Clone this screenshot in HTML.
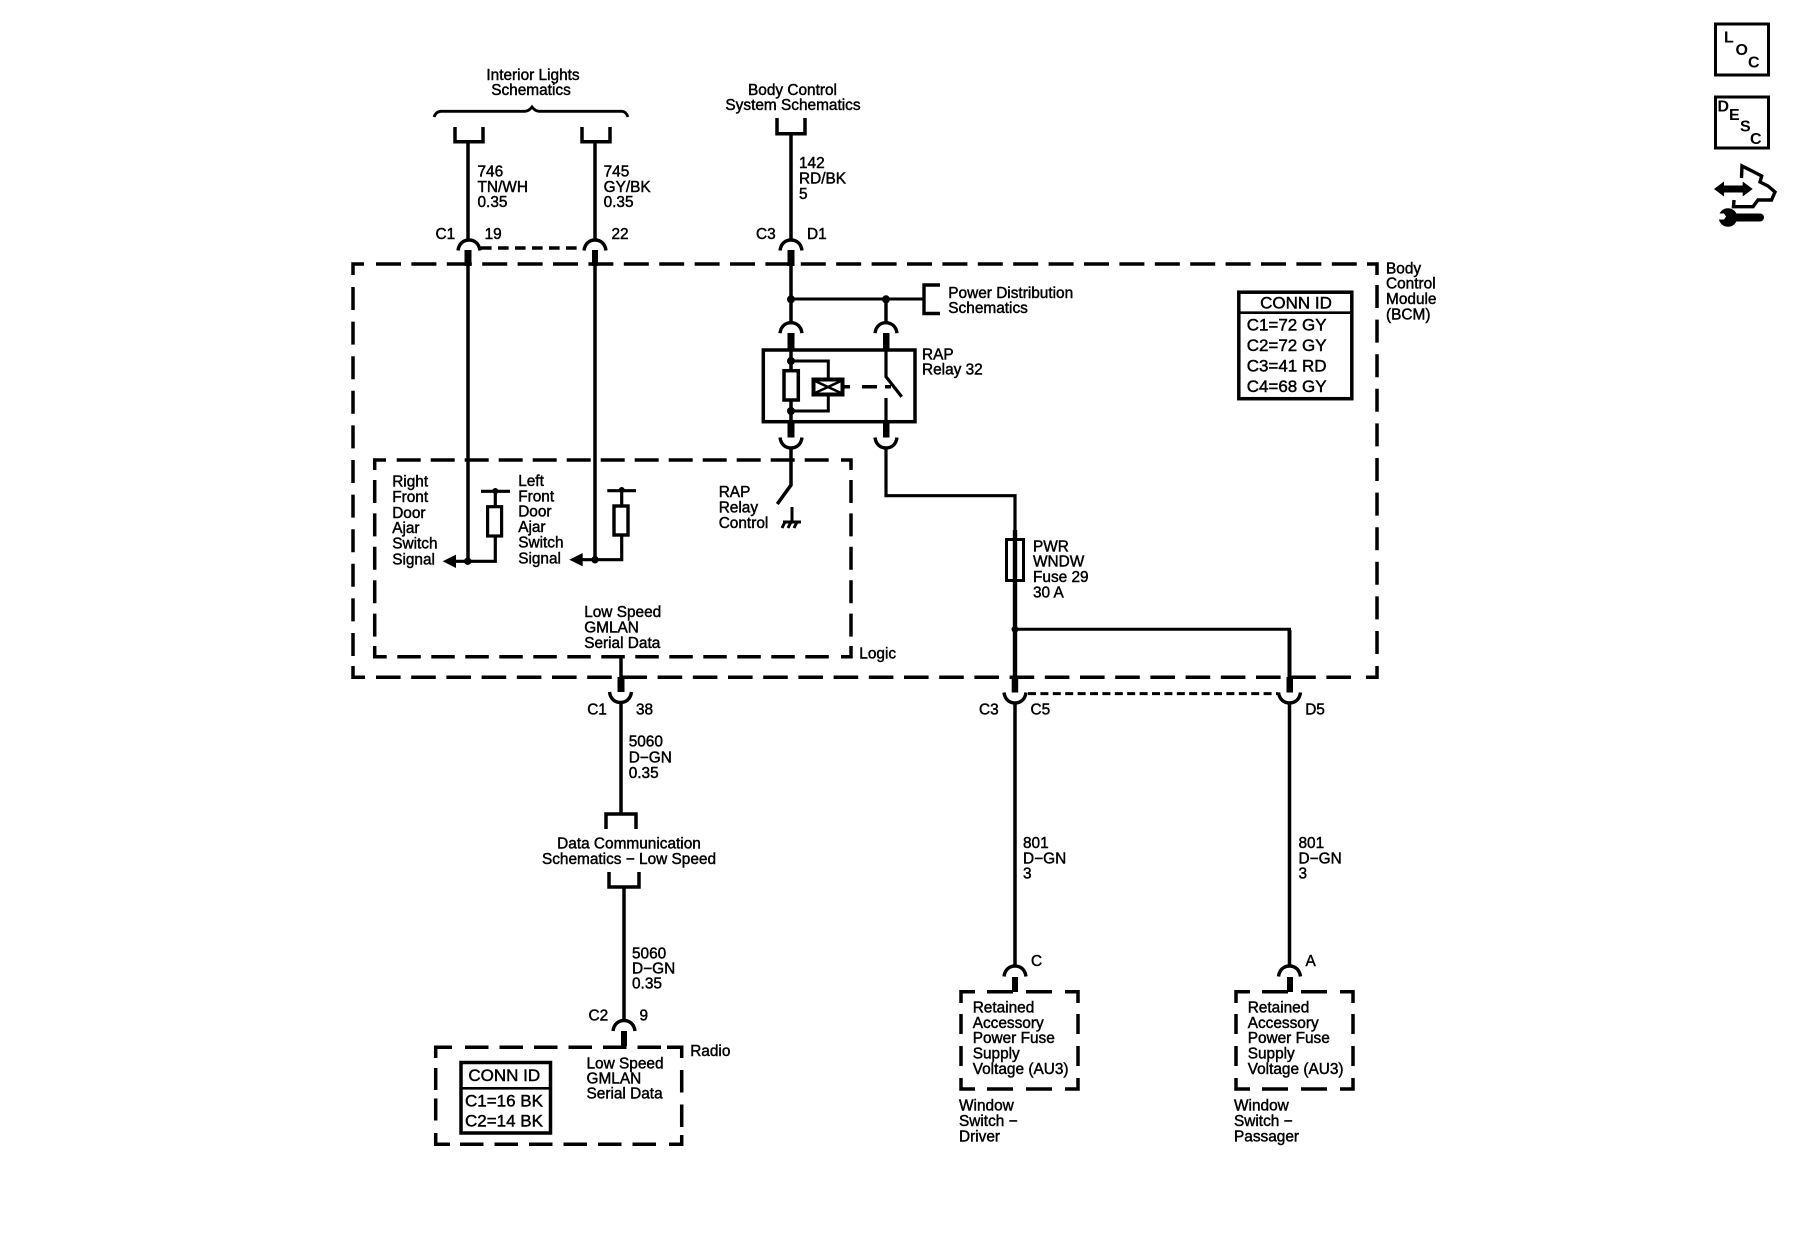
<!DOCTYPE html>
<html><head><meta charset="utf-8"><style>
html,body{margin:0;padding:0;background:#fff}
svg{display:block}
text{font-family:"Liberation Sans",sans-serif;font-size:15.4px;fill:#000;stroke:#000;stroke-width:.45}
.b{font-size:17px}
.l{font-size:16px;font-weight:bold;stroke:none}
.m{text-anchor:middle}
</style></head><body>
<svg width="1800" height="1248" viewBox="0 0 1800 1248" xmlns="http://www.w3.org/2000/svg">
<defs>
<path id="n" d="M-11 10.5C-10 3-5 0 0 0S10 3 11 10.5" fill="none" stroke="#000" stroke-width="3.4"/>
<path id="u" d="M-11 0C-10 7.5-5 10.5 0 10.5S10 7.5 11 0" fill="none" stroke="#000" stroke-width="3.4"/>
</defs>
<rect width="1800" height="1248" fill="#fff"/>
<g fill="none" stroke="#000" stroke-width="3.5">
<!-- brace -->
<path d="M434 117Q436 111.5 441 111.3H525Q529 111 532 107Q535 111 539 111.3H622Q626 111.5 628 117" stroke-width="2.8"/>
<!-- top connectors -->
<path d="M455 127V141.7H483V127M582 127V141.7H610V127M777 118V133.7H805V118" stroke-width="3.5"/>
<!-- main wires -->
<path d="M468 141V241M468 264V561M595 141V241M595 264V560M791 133V241M791 264V323"/>
<path d="M791 299H924" stroke-width="3"/>
<path d="M886 299V323" stroke-width="3.4"/>
<path d="M940 285H924V313.5H940" stroke-width="3.4"/>
<!-- BCM dashed -->
<path d="M353 275V264H364M1367 264H1377V275M353 666V677.3H365M1366 677.3H1377V666"/>
<path d="M376 264H1358" stroke-dasharray="25 10.4"/>
<path d="M376 677.3H1358" stroke-dasharray="24.6 10.6"/>
<path d="M353 287V656" stroke-dasharray="23 11.6"/>
<path d="M1377 285V656" stroke-dasharray="23 11.6"/>
<!-- logic dashed -->
<path d="M374.7 470V460H386M841 460H851V470M374.7 646V656.7H386.7M841 656.7H851V646"/>
<path d="M396.7 460H835" stroke-dasharray="24 10"/>
<path d="M397.3 656.7H835" stroke-dasharray="23.5 10.5"/>
<path d="M374.7 480V640" stroke-dasharray="23 10.4"/>
<path d="M851 480V640" stroke-dasharray="23 10.4"/>
<!-- connector dashed links -->
<path d="M481 248H580" stroke-dasharray="10.6 6.4" stroke-width="3.6"/>
<path d="M1028 693.6H1278" stroke-dasharray="8 4.4" stroke-width="3"/>
<!-- relay -->
<rect x="763.3" y="350" width="151.7" height="71.7"/>
<rect x="784" y="370.7" width="14.3" height="29.3"/>
<path d="M791 345V370.7M791 400V428M791 447V485L777.3 504"/>
<path d="M791 361H828.3V379M791 411H828.3V395" stroke-width="3"/>
<rect x="813.5" y="379.5" width="29" height="15" fill="#fff" stroke-width="4"/>
<path d="M815 381L841 393M815 393L841 381" stroke-width="2.6"/>
<path d="M843 386.7H850M862 386.7H877M885 386.7H891"/>
<path d="M886 345V376.7L901.7 396.7" stroke-width="3.2"/>
<path d="M886 398V430" stroke-width="3.2"/>
<path d="M792 507V522M783 522H801M785 522L782 528M791 522L788 528M797 522L794 528" stroke-width="3"/>
<path d="M886 447V495.7H1015V540" stroke-width="3.2"/>
<!-- fuse -->
<rect x="1006.5" y="539.5" width="17" height="41" stroke-width="3"/>
<path d="M1015 530V692" stroke-width="4.4"/>
<path d="M1015 629.3H1289.5V680" stroke-width="3"/>
<path d="M1289.5 630V692" stroke-width="4"/>
<!-- door ajar switches -->
<path d="M481 491.3H510M495.3 491V506.7M495.3 536V561.3H452" stroke-width="3.2"/>
<rect x="487.6" y="506.7" width="14" height="29.3" stroke-width="3.2"/>
<path d="M607.3 490.7H636M621.7 490V506M621.7 535V559.7H578" stroke-width="3.2"/>
<rect x="614" y="506" width="14" height="29" stroke-width="3.4"/>
<!-- bottom wires -->
<path d="M621 656V692M621 702V814M606 829V814H636V829"/>
<path d="M609 872V887H639V872M624 887V1021"/>
<path d="M1015 703V966M1289.5 703V966"/>
<!-- radio dashed -->
<path d="M435.7 1058V1047.3H452M667 1047.3H681.7V1058M435.7 1133V1144.3H450M669 1144.3H681.7V1135"/>
<path d="M465 1047.3H665" stroke-dasharray="23.5 11"/>
<path d="M460 1144.3H665" stroke-dasharray="23.5 11"/>
<path d="M435.7 1068V1124" stroke-dasharray="22 8.5"/>
<path d="M681.7 1070V1127" stroke-dasharray="22.5 12"/>
<!-- switch boxes -->
<path d="M961 1003V991.8H975M1065 991.8H1078V1003M961 1078V1089H975M1065 1089H1078V1078"/>
<path d="M987 991.8H1054M987 1089H1054" stroke-dasharray="26 13"/>
<path d="M961 1014V1068M1078 1014V1068" stroke-dasharray="20 12"/>
<path d="M1236 1003V991.8H1250M1340 991.8H1353V1003M1236 1078V1089H1250M1340 1089H1353V1078"/>
<path d="M1262 991.8H1329M1262 1089H1329" stroke-dasharray="26 13"/>
<path d="M1236 1014V1068M1353 1014V1068" stroke-dasharray="20 12"/>
<!-- conn boxes -->
<rect x="1238.8" y="292.2" width="113" height="106.5" fill="#fff"/>
<path d="M1238 312.7H1353" stroke-width="2.6"/>
<rect x="461" y="1062.5" width="89.5" height="70.5" fill="#fff"/>
<path d="M460 1088.3H551" stroke-width="2.6"/>
<!-- LOC/DESC -->
<rect x="1715.5" y="24" width="53" height="51" stroke-width="3"/>
<rect x="1715.5" y="97" width="53" height="51" stroke-width="3"/>
<!-- icon -->
<path d="M1741.5 178L1742 166L1754 172L1761.7 176L1760 182L1768 186L1775 192L1771.5 200L1758 200L1753 206.7L1733.5 206.7L1734 200" stroke-width="3.4"/>
<path d="M1722 189H1745" stroke-width="7"/>
<path d="M1727 217.5H1760" stroke-width="8" stroke-linecap="round"/>
</g>
<g fill="#000" stroke="none">
<!-- stubs -->
<rect x="464.5" y="250" width="7" height="16"/>
<rect x="592" y="250" width="6" height="16"/>
<rect x="787.5" y="250" width="7" height="16"/>
<rect x="787.5" y="333" width="7" height="18"/>
<rect x="883" y="333" width="6.5" height="18"/>
<rect x="787.5" y="421" width="7" height="16.5"/>
<rect x="883" y="421" width="6.5" height="16.5"/>
<rect x="617.5" y="677" width="7" height="15"/>
<rect x="1011.7" y="677" width="6.5" height="15.5"/>
<rect x="1286.5" y="677" width="6.5" height="15.5"/>
<rect x="621" y="1031" width="6" height="15"/>
<rect x="1012" y="977" width="6" height="15"/>
<rect x="1287" y="977" width="6" height="15"/>
<!-- junctions -->
<circle cx="791" cy="299.3" r="4"/><circle cx="886" cy="299.3" r="4"/>
<circle cx="791" cy="361" r="4"/><circle cx="791" cy="411" r="4"/>
<circle cx="467.7" cy="561.3" r="3.7"/><circle cx="595" cy="559.7" r="3.7"/>
<circle cx="495.3" cy="491" r="3"/><circle cx="621.7" cy="490" r="3"/>
<circle cx="1015" cy="629.3" r="3.5"/>
<!-- arrows -->
<path d="M442.7 561.3L456 554.6V568Z"/>
<path d="M569.3 559.7L582.7 553V566.4Z"/>
<!-- icon heads -->
<path d="M1714 189L1724 181.5V196.5Z"/><path d="M1752.7 189L1742.7 181.5V196.5Z"/>
<circle cx="1728" cy="217.5" r="9.3"/>
<path d="M1717 213.5H1724L1726 216.5L1724 219.5H1717Z" fill="#fff"/>
</g>
<use href="#n" x="469" y="240"/><use href="#n" x="595" y="240"/><use href="#n" x="791" y="240"/>
<use href="#n" x="791" y="322.7"/><use href="#n" x="886" y="322.7"/>
<use href="#u" x="791" y="437.5"/><use href="#u" x="886" y="437.5"/>
<use href="#u" x="620.5" y="692"/><use href="#u" x="1015" y="692.5"/><use href="#u" x="1289.5" y="692.5"/>
<use href="#n" x="624" y="1020.5"/><use href="#n" x="1015" y="966"/><use href="#n" x="1289.5" y="966"/>

<text class="m" x="533" y="80">Interior Lights</text><text class="m" x="531" y="95">Schematics</text>
<text class="m" x="792.5" y="95">Body Control</text><text class="m" x="793" y="110">System Schematics</text>
<text x="477.5" y="176.7">746</text><text x="477.5" y="192">TN/WH</text><text x="477.5" y="207">0.35</text>
<text x="603.6" y="176.7">745</text><text x="603.6" y="192">GY/BK</text><text x="603.6" y="207">0.35</text>
<text x="799" y="168">142</text><text x="799" y="183.3">RD/BK</text><text x="799" y="199">5</text>
<text x="435.5" y="239">C1</text><text x="484.6" y="239">19</text><text x="611.5" y="239">22</text><text x="756" y="239">C3</text><text x="807" y="239">D1</text>
<text x="948.3" y="298">Power Distribution</text><text x="948.3" y="313">Schematics</text>
<text x="922" y="359.3">RAP</text><text x="922" y="374.3">Relay 32</text>
<text x="1386" y="273.3">Body</text><text x="1386" y="288.3">Control</text><text x="1386" y="303.8">Module</text><text x="1386" y="319.3">(BCM)</text>
<text class="b m" x="1296" y="308.3">CONN ID</text>
<text class="b" x="1246.7" y="330.3">C1=72 GY</text><text class="b" x="1246.7" y="351">C2=72 GY</text><text class="b" x="1246.7" y="371.7">C3=41 RD</text><text class="b" x="1246.7" y="392">C4=68 GY</text>
<text x="392.2" y="486.7">Right</text><text x="392.2" y="502">Front</text><text x="392.2" y="518">Door</text><text x="392.2" y="533">Ajar</text><text x="392.2" y="548.7">Switch</text><text x="392.2" y="564.5">Signal</text>
<text x="518.2" y="486">Left</text><text x="518.2" y="501.7">Front</text><text x="518.2" y="516.7">Door</text><text x="518.2" y="532">Ajar</text><text x="518.2" y="547.7">Switch</text><text x="518.2" y="563.5">Signal</text>
<text x="718.7" y="497">RAP</text><text x="718.7" y="512.7">Relay</text><text x="718.7" y="528">Control</text>
<text x="584.2" y="617">Low Speed</text><text x="584.2" y="632.3">GMLAN</text><text x="584.2" y="648">Serial Data</text>
<text x="859.3" y="658.5">Logic</text>
<text x="1033" y="551.5">PWR</text><text x="1033" y="566.5">WNDW</text><text x="1033" y="582">Fuse 29</text><text x="1033" y="597.5">30 A</text>
<text x="587.2" y="714.5">C1</text><text x="636" y="714.5">38</text><text x="979" y="714.5">C3</text><text x="1030.5" y="714.5">C5</text><text x="1305.2" y="714.5">D5</text>
<text x="628.7" y="746.7">5060</text><text x="628.7" y="762.3">D−GN</text><text x="628.7" y="778">0.35</text>
<text class="m" x="629" y="848.3">Data Communication</text><text class="m" x="629" y="864">Schematics − Low Speed</text>
<text x="632" y="958.3">5060</text><text x="632" y="973.3">D−GN</text><text x="632" y="988.3">0.35</text>
<text x="588.5" y="1020.7">C2</text><text x="639.5" y="1020.7">9</text>
<text x="690.2" y="1056">Radio</text>
<text x="586.5" y="1068.3">Low Speed</text><text x="586.5" y="1083.3">GMLAN</text><text x="586.5" y="1098.3">Serial Data</text>
<text class="b m" x="504.3" y="1081">CONN ID</text><text class="b" x="465" y="1106.7">C1=16 BK</text><text class="b" x="465" y="1126.7">C2=14 BK</text>
<text x="1023" y="848">801</text><text x="1023" y="863.6">D−GN</text><text x="1023" y="878.6">3</text>
<text x="1298.5" y="848">801</text><text x="1298.5" y="863.6">D−GN</text><text x="1298.5" y="878.6">3</text>
<text x="1031" y="966">C</text><text x="1305.5" y="966">A</text>
<text x="972.7" y="1012.5">Retained</text><text x="972.7" y="1028">Accessory</text><text x="972.7" y="1043.2">Power Fuse</text><text x="972.7" y="1058.6">Supply</text><text x="972.7" y="1074">Voltage (AU3)</text>
<text x="1247.7" y="1012.5">Retained</text><text x="1247.7" y="1028">Accessory</text><text x="1247.7" y="1043.2">Power Fuse</text><text x="1247.7" y="1058.6">Supply</text><text x="1247.7" y="1074">Voltage (AU3)</text>
<text x="959" y="1110.7">Window</text><text x="959" y="1126">Switch −</text><text x="959" y="1141.5">Driver</text>
<text x="1234" y="1110.7">Window</text><text x="1234" y="1126">Switch −</text><text x="1234" y="1141.5">Passager</text>
<text class="l" x="1724" y="42.3">L</text><text class="l" x="1735.5" y="55">O</text><text class="l" x="1748" y="67.3">C</text>
<text class="l" x="1717.5" y="111.7">D</text><text class="l" x="1729" y="120">E</text><text class="l" x="1740" y="131.7">S</text><text class="l" x="1750" y="144">C</text>
</svg>
</body></html>
